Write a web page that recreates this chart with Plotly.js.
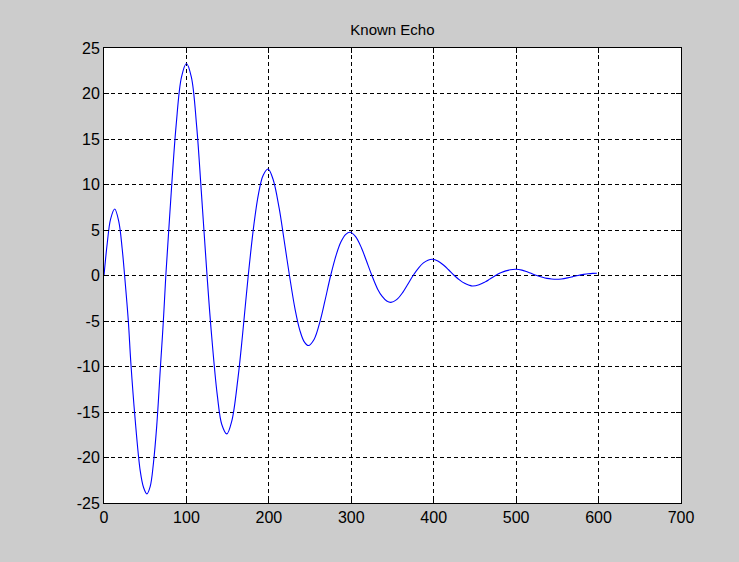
<!DOCTYPE html>
<html>
<head>
<meta charset="utf-8">
<script src="https://cdn.plot.ly/plotly-3.0.1.min.js"></script>
<style>html,body{margin:0;padding:0;background:#cccccc;}#chart{width:739px;height:562px;}</style>
</head>
<body>
<div id="chart"></div>
<script>
// Values
const sampleX = [0,4,8,13,18,22,25,29.5,32.5,37.5,44,48,52,56,60,64,68.5,72,75,80,87.5,94,100,106,112.5,118,125,130,137.5,143,149,155,162.5,168,175,182,187.5,193,199,205,212.5,218,225,232,237.5,243,248,255,262.5,268,275,282,287.5,293,298.5,305,312.5,318,325,332,337.5,343,348,355,362.5,368,375,382,387.5,393,398.5,405,412.5,418,425,432,437.5,443,447,455,462.5,468,475,482,487.5,493,500,507,512.5,518,525,532,537.5,543,549,555,562.5,568,575,582,587.5,593,598];
const echoValues = [0,3.6,6.2,7.3,5.9,3.0,0,-5,-9.5,-15.5,-21.5,-23.3,-24,-23.2,-20.6,-16.5,-10,-5,0,7,16.5,21.8,23.3,21.8,16.3,9.3,0,-6,-13.2,-16.4,-17.4,-16.0,-11.3,-6.6,0,5.7,9.0,11.0,11.7,10.6,7.4,4.2,0,-3.8,-6.0,-7.3,-7.7,-7.0,-4.9,-2.8,0,2.35,3.7,4.5,4.75,4.3,3.0,1.7,0,-1.5,-2.3,-2.8,-2.95,-2.65,-1.85,-1.05,0,0.87,1.38,1.68,1.78,1.6,1.1,0.63,0,-0.54,-0.86,-1.06,-1.15,-1.02,-0.7,-0.4,0,0.32,0.51,0.63,0.68,0.59,0.43,0.24,0,-0.2,-0.32,-0.39,-0.42,-0.38,-0.26,-0.15,0,0.12,0.19,0.23,0.24];
const xTicks = [0,100,200,300,400,500,600,700];
const yTicks = [-25,-20,-15,-10,-5,0,5,10,15,20,25];
const chartTitle = "Known Echo";

const axisCommon = {
  showline: true, linecolor: '#000', linewidth: 1, mirror: 'ticks',
  ticks: 'inside', ticklen: 5, tickcolor: '#000',
  showgrid: true, gridcolor: '#000', gridwidth: 1, griddash: '4px,3px',
  zeroline: false,
  tickfont: {family: 'Arial, Liberation Sans, sans-serif', size: 16, color: '#000'}
};

Plotly.newPlot('chart', [{
  x: sampleX, y: echoValues, type: 'scatter', mode: 'lines',
  line: {color: '#0000ff', width: 1.1, shape: 'spline', smoothing: 1}
}], {
  width: 739, height: 562,
  paper_bgcolor: '#cccccc', plot_bgcolor: '#ffffff',
  margin: {l: 104, r: 58, t: 48, b: 59},
  showlegend: false,
  title: {text: chartTitle, x: 0.531, xanchor: 'center', y: 0.947, yanchor: 'middle',
          font: {family: 'Arial, Liberation Sans, sans-serif', size: 15, color: '#000'}},
  xaxis: Object.assign({}, axisCommon, {range: [0, 700], tickvals: xTicks, ticktext: xTicks.map(String)}),
  yaxis: Object.assign({}, axisCommon, {range: [-25, 25], tickvals: yTicks, ticktext: yTicks.map(String)})
}, {displayModeBar: false, staticPlot: true});
</script>
</body>
</html>
